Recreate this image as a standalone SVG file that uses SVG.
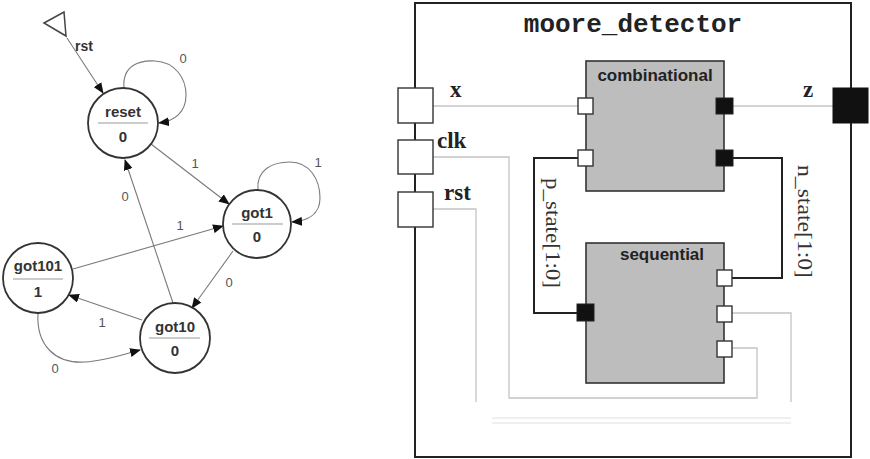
<svg xmlns="http://www.w3.org/2000/svg" width="870" height="459" viewBox="0 0 870 459">
<defs>
<marker id="ah" markerWidth="11" markerHeight="9" refX="10" refY="4.5" orient="auto" markerUnits="userSpaceOnUse"><path d="M0,0 L11,4.5 L0,9 z" fill="#111"/></marker>
<style>
.st{fill:#fff;stroke:#333;stroke-width:1.8}
.dv{stroke:#999;stroke-width:1}
.sn{font-family:"Liberation Sans",Arial,sans-serif;font-weight:bold;font-size:15px;fill:#333;text-anchor:middle}
.tr{fill:none;stroke:#7a7a7a;stroke-width:1.1}
.tl{font-family:"Liberation Sans",Arial,sans-serif;font-size:13px;fill:#555555;text-anchor:middle}
.blk{fill:#bdbdbd;stroke:#333;stroke-width:1.6}
.bt{font-family:"Liberation Sans",Arial,sans-serif;font-weight:bold;font-size:17px;fill:#222;text-anchor:middle}
.pw{fill:#fff;stroke:#333;stroke-width:1.4}
.pb{fill:#111;stroke:#222;stroke-width:1}
.pl{font-family:"Liberation Serif","Times New Roman",serif;font-weight:bold;font-size:23px;fill:#222}
.sig{font-family:"Liberation Serif","Times New Roman",serif;font-size:20px;fill:#333}
.lw{fill:none;stroke:#c4c4c4;stroke-width:1.3}
.dw{fill:none;stroke:#222;stroke-width:2}
</style>
</defs>

<g id="fsm-connectors">
<polygon points="44,23 64,12 66,36" fill="#fff" stroke="#444" stroke-width="1.5"/>
<path class="tr" d="M67,38 L103,93" marker-end="url(#ah)"/>
<text x="75" y="51" font-family="Liberation Sans, Arial, sans-serif" font-weight="bold" font-size="14" fill="#333">rst</text>
<path class="tr" d="M124,88 C122,65 140,60 155,61 C175,62 186,78 186,95 C186,112 175,121 159,123" marker-end="url(#ah)"/>
<text class="tl" x="183" y="63">0</text>
<path class="tr" d="M151,144 L229,204" marker-end="url(#ah)"/>
<text class="tl" x="195" y="168">1</text>
<path class="tr" d="M258,190 C256,170 272,162 290,162 C310,162 320,180 320,198 C320,214 308,221 292,222" marker-end="url(#ah)"/>
<text class="tl" x="318" y="167">1</text>
<path class="tr" d="M73,269 L223,226" marker-end="url(#ah)"/>
<text class="tl" x="180" y="230">1</text>
<path class="tr" d="M233,251 L192,308" marker-end="url(#ah)"/>
<text class="tl" x="229" y="287">0</text>
<path class="tr" d="M173,303 L125,160" marker-end="url(#ah)"/>
<text class="tl" x="125" y="201">0</text>
<path class="tr" d="M142,320 L69,295" marker-end="url(#ah)"/>
<text class="tl" x="102" y="327">1</text>
<path class="tr" d="M38,313 C36,345 55,364 85,362 C105,361 125,354 140,350" marker-end="url(#ah)"/>
<text class="tl" x="55" y="373">0</text>
</g>

<g id="reset">
<circle class="st" cx="123" cy="123" r="35"/>
<text class="sn" x="123" y="117">reset</text>
<line class="dv" x1="98" y1="123" x2="148" y2="123"/>
<text class="sn" x="123" y="142">0</text>
</g>
<g id="got1">
<circle class="st" cx="257" cy="224" r="34"/>
<text class="sn" x="257" y="218">got1</text>
<line class="dv" x1="232" y1="224" x2="283" y2="224"/>
<text class="sn" x="257" y="242">0</text>
</g>
<g id="got101">
<circle class="st" cx="38" cy="278" r="35"/>
<text class="sn" x="38" y="271">got101</text>
<line class="dv" x1="13" y1="279" x2="63" y2="279"/>
<text class="sn" x="38" y="297">1</text>
</g>
<g id="got10">
<circle class="st" cx="175" cy="338" r="35"/>
<text class="sn" x="175" y="332">got10</text>
<line class="dv" x1="149" y1="338" x2="200" y2="338"/>
<text class="sn" x="175" y="356">0</text>
</g>

<g id="moore_detector">
<rect x="415" y="3" width="436" height="454" fill="#fff" stroke="#222" stroke-width="2"/>
<text x="633" y="32" font-family="Liberation Mono, Courier New, monospace" font-weight="bold" font-size="26" fill="#222" text-anchor="middle">moore_detector</text>
</g>

<g id="rtl-connectors">
<path class="lw" d="M433,106 L578,106"/>
<path class="lw" d="M733,106 L833,106"/>
<path class="lw" d="M433,157 L509,157 L509,398 L757,398 L757,348 L732,348"/>
<path class="lw" d="M433,209 L476,209 L476,402"/>
<path class="lw" d="M732,313 L791,313 L791,402"/>
<path d="M492,418 L791,418 M492,423 L791,423" fill="none" stroke="#e0e0e0" stroke-width="1.2"/>
<path class="dw" d="M578,158 L534,158 L534,313 L577,313"/>
<path class="dw" d="M733,158 L782,158 L782,278 L732,278"/>
<text class="sig" transform="translate(546,178) rotate(90)" textLength="110" lengthAdjust="spacingAndGlyphs">p_state[1:0]</text>
<text class="sig" transform="translate(798,165) rotate(90)" textLength="113" lengthAdjust="spacingAndGlyphs">n_state[1:0]</text>
</g>

<g id="port-x">
<rect class="pw" x="398" y="88" width="35" height="35"/>
<text class="pl" x="450" y="97">x</text>
</g>
<g id="port-clk">
<rect class="pw" x="398" y="140" width="35" height="34"/>
<text class="pl" x="437" y="148">clk</text>
</g>
<g id="port-rst">
<rect class="pw" x="398" y="192" width="35" height="35"/>
<text class="pl" x="444" y="200">rst</text>
</g>
<g id="port-z">
<rect x="833" y="88" width="35" height="35" fill="#111" stroke="#111"/>
<text class="pl" x="803" y="97">z</text>
</g>

<g id="combinational">
<rect class="blk" x="586" y="61" width="138" height="130"/>
<text class="bt" x="655" y="81">combinational</text>
<rect class="pw" x="578" y="98" width="15" height="16"/>
<rect class="pw" x="578" y="150" width="15" height="16"/>
<rect class="pb" x="716" y="98" width="17" height="16"/>
<rect class="pb" x="716" y="150" width="17" height="16"/>
</g>

<g id="sequential">
<rect class="blk" x="586" y="243" width="138" height="140"/>
<text class="bt" x="662" y="260">sequential</text>
<rect class="pb" x="577" y="304" width="17" height="17"/>
<rect class="pw" x="717" y="270" width="15" height="16"/>
<rect class="pw" x="717" y="306" width="15" height="16"/>
<rect class="pw" x="717" y="341" width="15" height="16"/>
</g>
</svg>
